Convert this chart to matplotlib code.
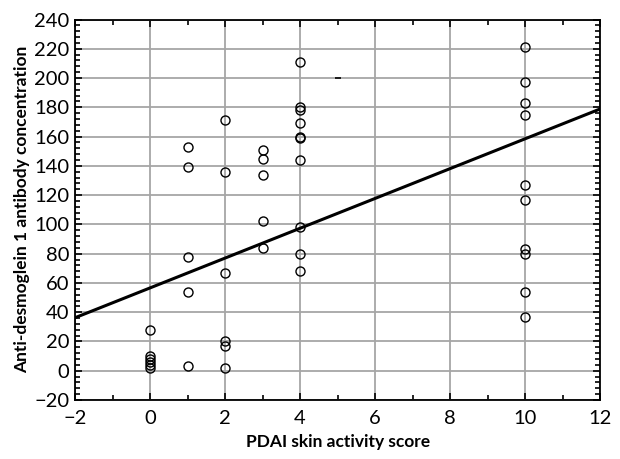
import numpy as np
import matplotlib.pyplot as plt
from matplotlib.ticker import MultipleLocator

plt.rcParams['font.family'] = ['Lato', 'DejaVu Sans']

# PDAI score and antibody concentration
pdai = [0, 0, 0, 0, 0, 0,
        1, 1, 1, 1, 1,
        2, 2, 2, 2, 2, 2,
        3, 3, 3, 3, 3,
        4, 4, 4, 4, 4, 4, 4, 4, 4, 4,
        10, 10, 10, 10, 10, 10, 10, 10, 10, 10]
dsg1 = [28, 10, 8, 6, 4, 2,
        153, 139, 78, 54, 3,
        171, 136, 67, 20, 17, 2,
        151, 145, 134, 102, 84,
        211, 180, 178, 169, 160, 159, 144, 98, 80, 68,
        221, 197, 183, 175, 127, 117, 83, 80, 54, 37]

# regression line
intercept = 56.6
slope = 10.19

fig = plt.figure(figsize=(6.2, 4.59), dpi=100)
ax = fig.add_axes([0.121, 0.1285, 0.847, 0.829])

ax.grid(True, color='#a6a6a6', linewidth=1.3)
ax.set_axisbelow(True)

ax.plot(pdai, dsg1, 'o', mfc='none', mec='black', ms=6.5, mew=1.0, zorder=3)
ax.plot([5], [200], marker='_', color='black', ms=5, mew=1.2, zorder=3)

xl = np.array([-2, 12])
ax.plot(xl, intercept + slope * xl, color='black', lw=2.2, zorder=4)

ax.set_xlim(-2, 12)
ax.set_ylim(-20, 240)
ax.xaxis.set_major_locator(MultipleLocator(2))
ax.xaxis.set_minor_locator(MultipleLocator(1))
ax.yaxis.set_major_locator(MultipleLocator(20))
ax.yaxis.set_minor_locator(MultipleLocator(4))

ax.tick_params(which='both', direction='in', top=True, right=True,
               labelsize=14.5, width=1.2)
ax.tick_params(which='major', length=5)
ax.tick_params(which='minor', length=3.5)
ax.tick_params(axis='x', pad=7)
ax.tick_params(axis='y', pad=4)

for s in ax.spines.values():
    s.set_linewidth(1.3)

ax.set_xlabel('PDAI skin activity score', fontsize=12.5, fontweight='bold', labelpad=5)
ax.set_ylabel('Anti-desmoglein 1 antibody concentration', fontsize=12.5,
              fontweight='bold', labelpad=3)

fig.savefig('out.png', dpi=100)
